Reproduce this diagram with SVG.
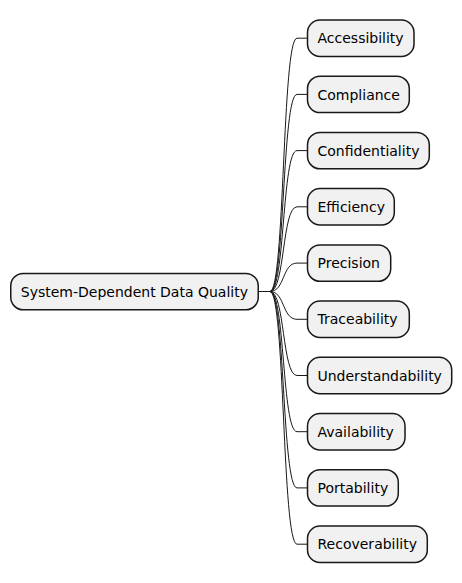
<svg xmlns="http://www.w3.org/2000/svg" width="462" height="583" viewBox="0 0 462 583">
<style>
.n{fill:#F1F1F1;stroke:#181818;stroke-width:1.5}
.t{font-family:"DejaVu Sans",sans-serif;font-size:14px;fill:#000}
.c{fill:none;stroke:#181818;stroke-width:1}
</style>
<rect width="462" height="583" fill="#FFFFFF"/>
<g id="connectors">
<path class="c" d="M258.5,291.5 L270,291.5 C285,291.5 282,38.2 297,38.2 L307.5,38.2"/>
<path class="c" d="M258.5,291.5 L270,291.5 C285,291.5 282,94.4 297,94.4 L307.5,94.4"/>
<path class="c" d="M258.5,291.5 L270,291.5 C285,291.5 282,150.6 297,150.6 L307.5,150.6"/>
<path class="c" d="M258.5,291.5 L270,291.5 C285,291.5 282,206.8 297,206.8 L307.5,206.8"/>
<path class="c" d="M258.5,291.5 L270,291.5 C285,291.5 282,263.1 297,263.1 L307.5,263.1"/>
<path class="c" d="M258.5,291.5 L270,291.5 C285,291.5 282,319.3 297,319.3 L307.5,319.3"/>
<path class="c" d="M258.5,291.5 L270,291.5 C285,291.5 282,375.5 297,375.5 L307.5,375.5"/>
<path class="c" d="M258.5,291.5 L270,291.5 C285,291.5 282,431.7 297,431.7 L307.5,431.7"/>
<path class="c" d="M258.5,291.5 L270,291.5 C285,291.5 282,487.9 297,487.9 L307.5,487.9"/>
<path class="c" d="M258.5,291.5 L270,291.5 C285,291.5 282,544.2 297,544.2 L307.5,544.2"/>
</g>
<g id="root"><rect class="n" x="10.75" y="273.4" width="247.5" height="36.4" rx="12.5"/><text class="t" x="20.75" y="296.7">System-Dependent Data Quality</text></g>
<g id="n1"><rect class="n" x="307.5" y="20" width="106.5" height="36.4" rx="12.5"/><text class="t" x="317.5" y="43.3">Accessibility</text></g>
<g id="n2"><rect class="n" x="307.5" y="76.2" width="101.8" height="36.4" rx="12.5"/><text class="t" x="317.5" y="99.5">Compliance</text></g>
<g id="n3"><rect class="n" x="307.5" y="132.4" width="121.8" height="36.4" rx="12.5"/><text class="t" x="317.5" y="155.7">Confidentiality</text></g>
<g id="n4"><rect class="n" x="307.5" y="188.6" width="86.8" height="36.4" rx="12.5"/><text class="t" x="317.5" y="211.9">Efficiency</text></g>
<g id="n5"><rect class="n" x="307.5" y="244.9" width="83.2" height="36.4" rx="12.5"/><text class="t" x="317.5" y="268.2">Precision</text></g>
<g id="n6"><rect class="n" x="307.5" y="301.1" width="101.8" height="36.4" rx="12.5"/><text class="t" x="317.5" y="324.4">Traceability</text></g>
<g id="n7"><rect class="n" x="307.5" y="357.3" width="144.2" height="36.4" rx="12.5"/><text class="t" x="317.5" y="380.6">Understandability</text></g>
<g id="n8"><rect class="n" x="307.5" y="413.5" width="97.5" height="36.4" rx="12.5"/><text class="t" x="317.5" y="436.8">Availability</text></g>
<g id="n9"><rect class="n" x="307.5" y="469.7" width="90.8" height="36.4" rx="12.5"/><text class="t" x="317.5" y="493">Portability</text></g>
<g id="n10"><rect class="n" x="307.5" y="526" width="119.8" height="36.4" rx="12.5"/><text class="t" x="317.5" y="549.3">Recoverability</text></g>
</svg>
